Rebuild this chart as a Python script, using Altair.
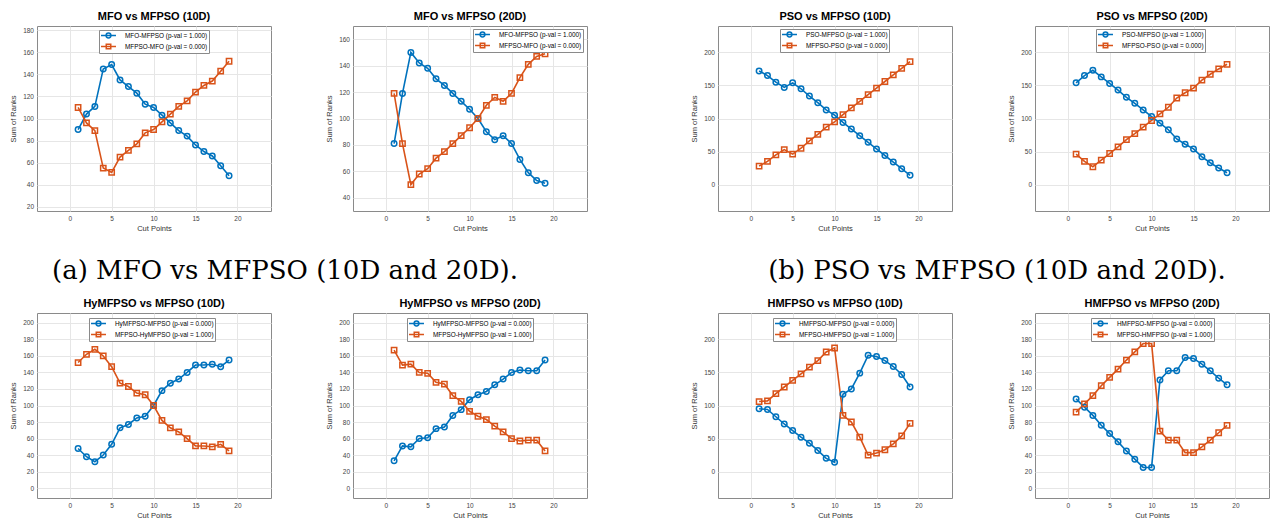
import altair as alt
import pandas as pd

# ---------------- data ----------------
cut_points = [1, 2, 3, 4, 5, 6, 7, 8, 9, 10, 11, 12, 13, 14, 15, 16, 17, 18, 19]

titles = ["MFO vs MFPSO (10D)", "MFO vs MFPSO (20D)", "PSO vs MFPSO (10D)", "PSO vs MFPSO (20D)",
          "HyMFPSO vs MFPSO (10D)", "HyMFPSO vs MFPSO (20D)", "HMFPSO vs MFPSO (10D)", "HMFPSO vs MFPSO (20D)"]

labels_mfo = ["MFO-MFPSO (p-val = 1.000)", "MFPSO-MFO (p-val = 0.000)"]
labels_pso = ["PSO-MFPSO (p-val = 1.000)", "MFPSO-PSO (p-val = 0.000)"]
labels_hy = ["HyMFPSO-MFPSO (p-val = 0.000)", "MFPSO-HyMFPSO (p-val = 1.000)"]
labels_hm = ["HMFPSO-MFPSO (p-val = 0.000)", "MFPSO-HMFPSO (p-val = 1.000)"]

mfo_10d_a = [90, 104, 111, 145, 149, 135, 129, 123, 113, 110, 103, 96, 89, 84, 76, 70, 66, 57, 48]
mfo_10d_b = [110, 96, 89, 55, 51, 65, 71, 77, 87, 90, 97, 104, 111, 116, 124, 130, 134, 143, 152]
mfo_20d_a = [81, 119, 150, 142, 138, 130, 125, 119, 113, 107, 100, 90, 84, 87, 81, 69, 59, 53, 51]
mfo_20d_b = [119, 81, 50, 58, 62, 70, 75, 81, 87, 93, 100, 110, 116, 113, 119, 131, 141, 147, 149]
pso_10d_a = [172, 165, 155, 147, 154, 145, 134, 124, 113, 105, 94, 84, 74, 64, 54, 44, 34, 24, 14]
pso_10d_b = [28, 35, 45, 53, 46, 55, 66, 76, 87, 95, 106, 116, 126, 136, 146, 156, 166, 176, 186]
pso_20d_a = [154, 165, 173, 163, 153, 143, 132, 123, 113, 103, 93, 83, 69, 61, 54, 42, 33, 25, 18]
pso_20d_b = [46, 35, 27, 37, 47, 57, 68, 77, 87, 97, 107, 117, 131, 139, 146, 158, 167, 175, 182]
hy_10d_a = [48, 38, 32, 40, 53, 73, 77, 85, 87, 100, 118, 127, 132, 140, 149, 149, 150, 147, 155]
hy_10d_b = [152, 162, 168, 160, 147, 127, 123, 115, 113, 100, 82, 73, 68, 60, 51, 51, 50, 53, 45]
hy_20d_a = [33, 51, 50, 60, 61, 72, 74, 88, 95, 107, 113, 117, 125, 132, 140, 143, 142, 142, 155]
hy_20d_b = [167, 149, 150, 140, 139, 128, 126, 112, 105, 93, 87, 83, 75, 68, 60, 57, 58, 58, 45]
hm_10d_a = [95, 94, 83, 72, 62, 52, 43, 32, 20, 14, 117, 125, 149, 176, 174, 168, 159, 147, 128]
hm_10d_b = [106, 107, 118, 128, 138, 148, 158, 168, 181, 187, 85, 75, 52, 25, 28, 33, 42, 54, 73]
hm_20d_a = [108, 98, 88, 76, 66, 56, 45, 35, 25, 25, 131, 142, 142, 158, 157, 150, 142, 133, 125]
hm_20d_b = [92, 102, 112, 124, 134, 144, 155, 165, 175, 175, 69, 58, 58, 43, 43, 50, 58, 67, 76]

ticks_20_180 = [20, 40, 60, 80, 100, 120, 140, 160, 180]
ticks_40_160 = [40, 60, 80, 100, 120, 140, 160]
ticks_0_200_50 = [0, 50, 100, 150, 200]
ticks_0_200_20 = [0, 20, 40, 60, 80, 100, 120, 140, 160, 180, 200]
x_ticks = [0, 5, 10, 15, 20]

captions = ["(a) MFO vs MFPSO (10D and 20D).", "(b) PSO vs MFPSO (10D and 20D)."]

# ---------------- style ----------------
BLUE = "#0072BD"
ORANGE = "#D95319"
FONT = "Liberation Sans"
PW, PH = 234, 185
PATH_C = "M-2,0H2M0.64,0A0.64,0.64,0,1,1,-0.64,0A0.64,0.64,0,1,1,0.64,0"
PATH_S = "M-2,0H2M-0.6,-0.6H0.6V0.6H-0.6Z"


def panel(title, labels, a, b, ydom, yticks, lx, ly):
    df = pd.DataFrame({
        "x": cut_points + cut_points,
        "y": a + b,
        "s": [labels[0]] * len(a) + [labels[1]] * len(b),
    })
    leg = alt.Legend(orient="none", legendX=lx, legendY=ly, title=None,
                     fillColor="white", strokeColor="#8a8a8a", padding=1,
                     labelFontSize=6.4, labelFont=FONT, labelColor="black",
                     symbolSize=56, symbolStrokeWidth=1.5, symbolOffset=4,
                     labelOffset=12, rowPadding=0, labelLimit=400)
    cscale = alt.Scale(domain=labels, range=[BLUE, ORANGE])
    xenc = alt.X("x:Q", scale=alt.Scale(domain=[-3.9, 24], nice=False, zero=False),
                 axis=alt.Axis(values=x_ticks, title="Cut Points"))
    yenc = alt.Y("y:Q", scale=alt.Scale(domain=ydom, nice=False, zero=False),
                 axis=alt.Axis(values=yticks, title="Sum of Ranks"))
    base = alt.Chart(df)
    legend_layer = base.mark_point(opacity=0, filled=False).encode(
        x=xenc, y=yenc,
        color=alt.Color("s:N", scale=cscale, legend=leg),
        shape=alt.Shape("s:N", scale=alt.Scale(domain=labels, range=[PATH_C, PATH_S]), legend=leg),
    )
    line = base.mark_line(strokeWidth=1.6).encode(
        x=xenc, y=yenc, color=alt.Color("s:N", scale=cscale, legend=None))
    circ = base.transform_filter(alt.datum.s == labels[0]).mark_point(
        shape="circle", filled=False, size=30, strokeWidth=1.5, opacity=1).encode(
        x=xenc, y=yenc, color=alt.Color("s:N", scale=cscale, legend=None))
    sq = base.transform_filter(alt.datum.s == labels[1]).mark_point(
        shape="square", filled=False, size=28, strokeWidth=1.5, opacity=1).encode(
        x=xenc, y=yenc, color=alt.Color("s:N", scale=cscale, legend=None))
    return alt.layer(legend_layer, line, circ, sq).properties(
        width=PW, height=PH, title=alt.TitleParams(title))


def spacer(w, text, cx, cy):
    df = pd.DataFrame({"t": [text]})
    return alt.Chart(df).mark_text(font="DejaVu Serif", fontSize=26, align="center",
                                   baseline="middle", color="black").encode(
        text="t:N", x=alt.value(cx), y=alt.value(cy)
    ).properties(width=w, height=PH, view=alt.ViewBackground(stroke="transparent"))


p1 = panel(titles[0], labels_mfo, mfo_10d_a, mfo_10d_b, [16, 184], ticks_20_180, 62, 4)
p2 = panel(titles[1], labels_mfo, mfo_20d_a, mfo_20d_b, [30, 170], ticks_40_160, 120, 3)
p3 = panel(titles[2], labels_pso, pso_10d_a, pso_10d_b, [-40, 240], ticks_0_200_50, 62, 3)
p4 = panel(titles[3], labels_pso, pso_20d_a, pso_20d_b, [-40, 240], ticks_0_200_50, 61, 3)
p5 = panel(titles[4], labels_hy, hy_10d_a, hy_10d_b, [-12, 212], ticks_0_200_20, 52, 5)
p6 = panel(titles[5], labels_hy, hy_20d_a, hy_20d_b, [-12, 212], ticks_0_200_20, 54, 5)
p7 = panel(titles[6], labels_hm, hm_10d_a, hm_10d_b, [-40, 240], ticks_0_200_50, 55, 5)
p8 = panel(titles[7], labels_hm, hm_20d_a, hm_20d_b, [-12, 212], ticks_0_200_20, 56, 5)

s1 = spacer(82, captions[0], 14, 245)
s2 = spacer(131, "", 0, 0)
s3 = spacer(83, captions[1], 45, 245)
s4 = spacer(82, "", 0, 0)
s5 = spacer(89, "", 0, 0)
s6 = spacer(83, "", 0, 0)

chart = alt.concat(
    p1, s1, p2, s2, p3, s3, p4,
    p5, s4, p6, s5, p7, s6, p8,
    columns=7, spacing={"row": 102, "column": 0}, bounds="flush", align="none",
).resolve_scale(
    color="independent", shape="independent", x="independent", y="independent"
).resolve_legend(
    color="independent", shape="independent"
).properties(
    padding={"left": 9, "top": 10, "right": 0, "bottom": 0}
).configure_view(
    stroke="#8a8a8a", strokeWidth=1
).configure_axis(
    grid=True, gridColor="#e6e6e6", gridWidth=1, domain=False, ticks=False, tickSize=0,
    labelFont=FONT, labelFontSize=6.5, labelColor="#444444",
    titleFont=FONT, titleFontSize=7.5, titleFontWeight="normal", titleColor="#333333",
).configure_axisX(
    labelPadding=4.5, titlePadding=2.7
).configure_axisY(
    labelPadding=3.5, titlePadding=5
).configure_title(
    font=FONT, fontSize=11, fontWeight="bold", color="black", anchor="middle", offset=4
)

chart.save("out.html", embed_options={"renderer": "svg", "actions": False})
